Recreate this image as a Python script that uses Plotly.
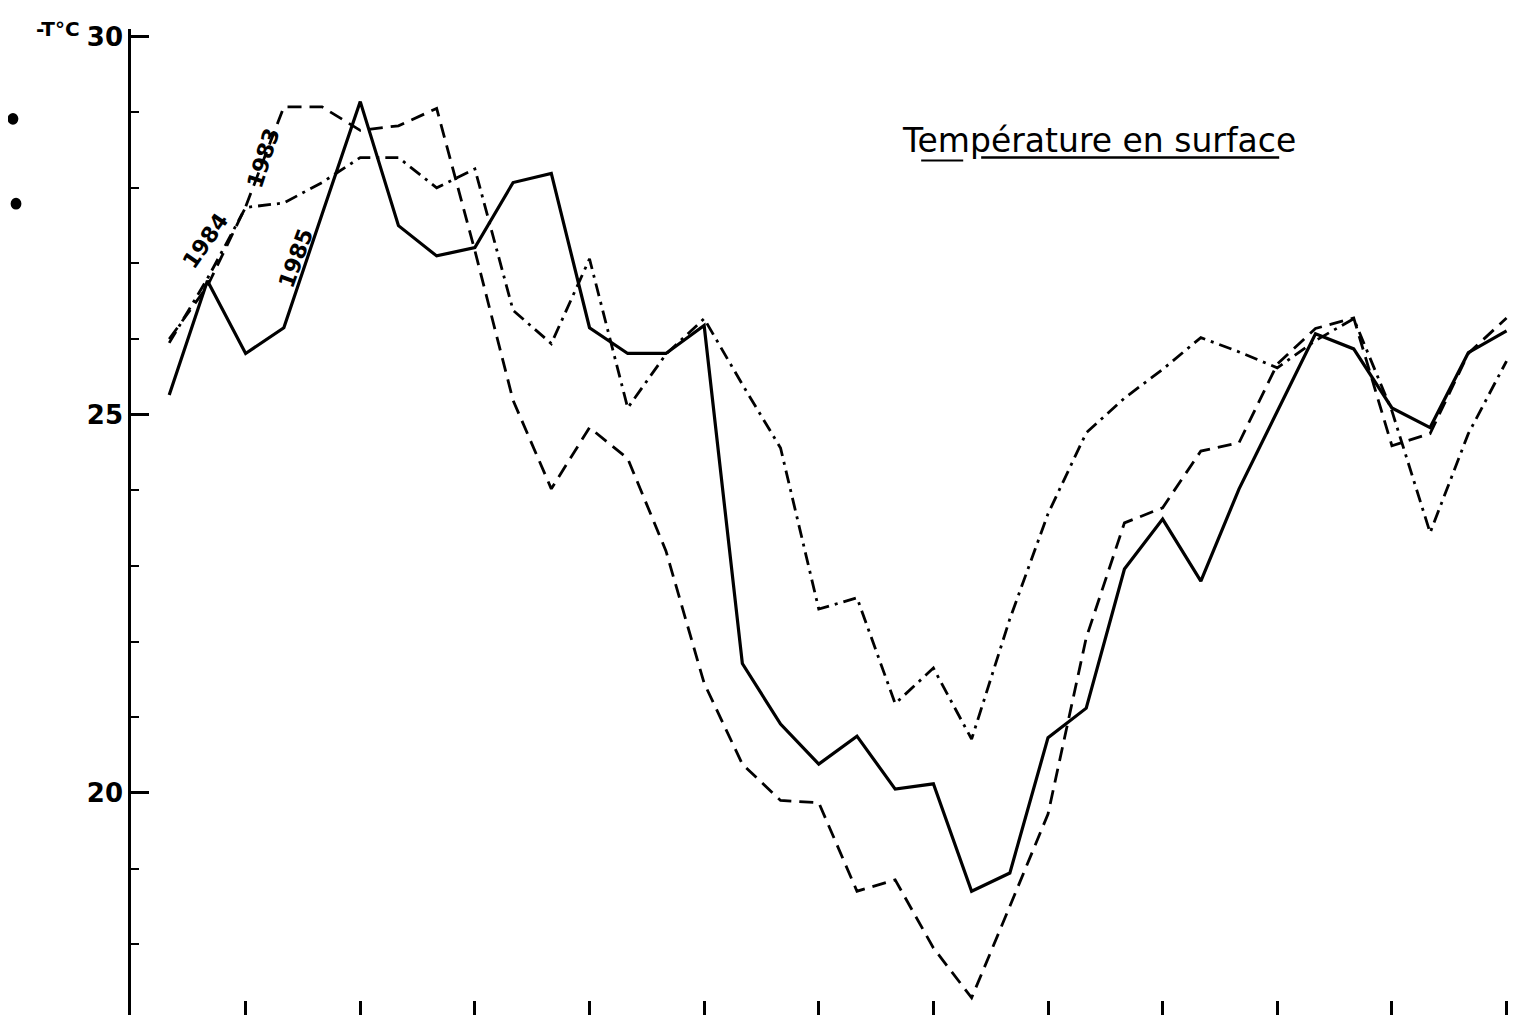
import plotly.graph_objects as go

# decade index (3 per month, 12 months)
decade = list(range(1, 37))

t1985 = [25.26, 26.77, 25.81, 26.15, 27.65, 29.14, 27.50, 27.10, 27.21, 28.07,
         28.19, 26.15, 25.81, 25.81, 26.18, 21.71, 20.91, 20.38, 20.75, 20.05,
         20.12, 18.70, 18.94, 20.73, 21.12, 22.96, 23.62, 22.80, 24.02, 25.05,
         26.07, 25.87, 25.09, 24.83, 25.82, 26.11]

t1983 = [26.00, 26.70, 27.75, 29.07, 29.07, 28.76, 28.82, 29.05, 27.17, 25.19,
         24.02, 24.83, 24.42, 23.20, 21.45, 20.38, 19.90, 19.87, 18.70, 18.85,
         17.95, 17.29, 18.50, 19.72, 22.05, 23.57, 23.77, 24.52, 24.63, 25.67,
         26.14, 26.28, 24.59, 24.75, 25.81, 26.28]

t1984 = [25.95, 26.80, 27.74, 27.80, 28.07, 28.40, 28.40, 28.00, 28.25, 26.38,
         25.94, 27.06, 25.09, 25.80, 26.27, 25.40, 24.56, 22.43, 22.58, 21.18,
         21.65, 20.71, 22.30, 23.69, 24.76, 25.22, 25.60, 26.02, 25.83, 25.62,
         25.98, 26.27, 25.05, 23.44, 24.75, 25.71]

month_ticks = [3, 6, 9, 12, 15, 18, 21, 24, 27, 30, 33, 36]
y_major = [20, 25, 30]

fig = go.Figure()
fig.add_trace(go.Scatter(x=decade, y=t1983, mode="lines", name="1983",
                         line=dict(color="black", width=2.8, dash="14px,8px")))
fig.add_trace(go.Scatter(x=decade, y=t1984, mode="lines", name="1984",
                         line=dict(color="black", width=2.8, dash="13px,6px,3px,6px")))
fig.add_trace(go.Scatter(x=decade, y=t1985, mode="lines", name="1985",
                         line=dict(color="black", width=3.2)))

lbl_font = dict(family="DejaVu Sans", size=22, color="black", weight="bold")
fig.add_annotation(x=1.96, y=27.3, text="1984", showarrow=False, textangle=-55, font=lbl_font)
fig.add_annotation(x=3.46, y=28.39, text="1983", showarrow=False, textangle=-72, font=lbl_font)
fig.add_annotation(x=4.32, y=27.06, text="1985", showarrow=False, textangle=-70, font=lbl_font)

fig.add_annotation(x=25.34, y=28.62, text="Température en surface", showarrow=False,
                   font=dict(family="DejaVu Sans", size=33, color="black"))
fig.add_shape(type="line", x0=22.25, x1=30.05, y0=28.4, y1=28.4,
              line=dict(color="black", width=2.5))
fig.add_shape(type="line", x0=20.68, x1=21.78, y0=28.36, y1=28.36,
              line=dict(color="black", width=2))

fig.add_annotation(xref="paper", yref="paper", x=-0.070, y=1.0, xanchor="left", yanchor="middle",
                   text="-T°C", showarrow=False,
                   font=dict(family="DejaVu Sans", size=20, color="black", weight="bold"))

# scan holes
fig.add_shape(type="circle", xref="paper", yref="paper",
              x0=-0.0890, x1=-0.0812, y0=0.915, y1=0.903, fillcolor="black", line=dict(width=0))
fig.add_shape(type="circle", xref="paper", yref="paper",
              x0=-0.0868, x1=-0.0790, y0=0.829, y1=0.817, fillcolor="black", line=dict(width=0))

fig.update_xaxes(range=[0, 36.3], tickmode="array", tickvals=month_ticks,
                 ticks="inside", ticklen=15, tickwidth=2.5, tickcolor="black",
                 showticklabels=False, showgrid=False, zeroline=False, showline=False)
fig.update_yaxes(range=[17.05, 30.1], tickmode="array", tickvals=y_major,
                 ticks="inside", ticklen=18, tickwidth=2.5, tickcolor="black",
                 tickfont=dict(family="DejaVu Sans", size=26, color="black", weight="bold"),
                 showgrid=False, zeroline=False, showline=True, linecolor="black", linewidth=2.5,
                 minor=dict(dtick=1, tick0=0, ticks="inside", ticklen=8, tickwidth=2, tickcolor="black",
                            showgrid=False))

fig.update_layout(width=1518, height=1015, margin=dict(l=123, r=8, t=21, b=7),
                  paper_bgcolor="white", plot_bgcolor="white", showlegend=False)

fig.write_html("out.html")
